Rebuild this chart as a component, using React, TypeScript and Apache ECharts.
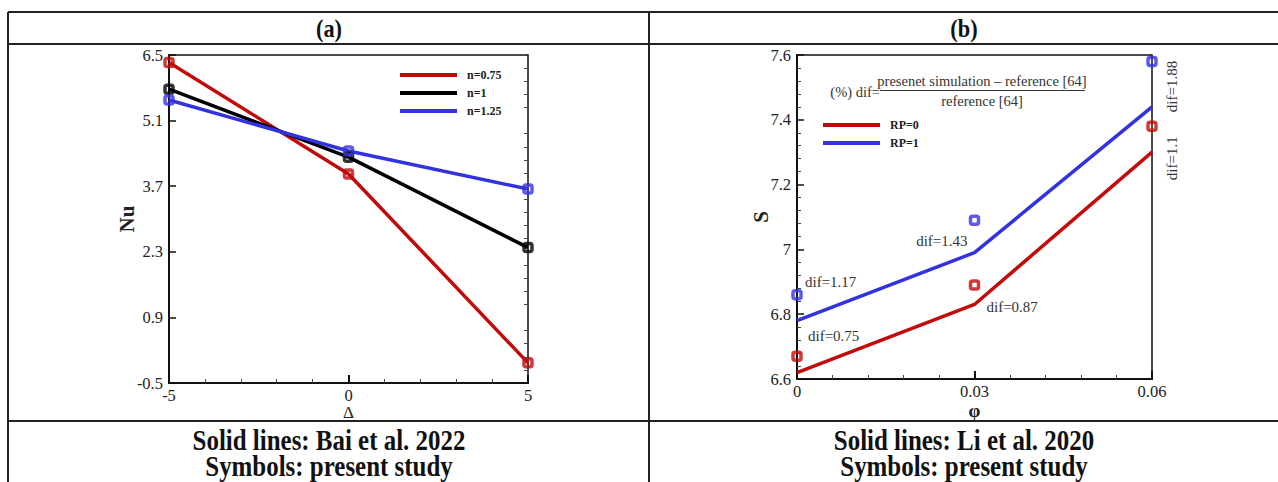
import React, { useEffect, useRef } from "react";
import * as echarts from "echarts";

// ---- Panel (a): Nu versus Δ ----
const deltaValues = [-5, 0, 5];
const nuLineN075 = [6.34, 3.96, -0.07];
const nuLineN1 = [5.77, 4.32, 2.39];
const nuLineN125 = [5.54, 4.45, 3.64];
const nuSymN075 = [6.34, 3.96, -0.07];
const nuSymN1 = [5.77, 4.32, 2.39];
const nuSymN125 = [5.54, 4.45, 3.64];
const nuTicks = [-0.5, 0.9, 2.3, 3.7, 5.1, 6.5];
const legendA = ["n=0.75", "n=1", "n=1.25"];

// ---- Panel (b): S versus φ ----
const phiValues = [0, 0.03, 0.06];
const sLineRP0 = [6.62, 6.83, 7.3];
const sLineRP1 = [6.78, 6.99, 7.44];
const sSymRP0 = [6.67, 6.89, 7.38];
const sSymRP1 = [6.86, 7.09, 7.58];
const difRP0 = ["0.75", "0.87", "1.1"];
const difRP1 = ["1.17", "1.43", "1.88"];
const legendB = ["RP=0", "RP=1"];

const RED = "#c20a0a";
const BLACK = "#000000";
const BLUE = "#3232e0";
const SERIF = "'Liberation Serif', 'Times New Roman', serif";

const zip = (xs: number[], ys: number[]) => xs.map((x, i) => [x, ys[i]]);

// minor tick positions between the major Nu ticks (4 per gap)
const nuMinor: number[] = [];
for (let i = 0; i < nuTicks.length - 1; i++) {
  const step = (nuTicks[i + 1] - nuTicks[i]) / 5;
  for (let k = 1; k < 5; k++) nuMinor.push(+(nuTicks[i] + step * k).toFixed(3));
}

const tickLabel = { color: "#222", fontFamily: SERIF, fontSize: 16.5 };
const axisLineStyle = { onZero: false, lineStyle: { color: "#111", width: 2 } };
const nameStyle = (size: number, bold: boolean) => ({
  fontFamily: SERIF,
  fontSize: size,
  fontWeight: bold ? "bold" : "normal",
  color: "#222",
  align: "center",
  verticalAlign: "middle",
});

export default function App() {
  const ref = useRef<HTMLDivElement>(null);

  useEffect(() => {
    if (!ref.current) return;
    const chart = echarts.init(ref.current, undefined, { renderer: "svg" });

    const lineSeries = (name: string, data: number[][], color: string, xi: number, yi: number) => ({
      name,
      type: "line",
      xAxisIndex: xi,
      yAxisIndex: yi,
      data,
      showSymbol: false,
      symbol: "none",
      lineStyle: { color, width: 3.5 },
      itemStyle: { color },
      z: 2,
    });
    const symSeries = (name: string, data: number[][], color: string, xi: number, yi: number) => ({
      name,
      type: "scatter",
      xAxisIndex: xi,
      yAxisIndex: yi,
      data,
      symbol: "roundRect",
      symbolSize: 8,
      itemStyle: { color: "rgba(255,255,255,0)", borderColor: color, borderWidth: 3.5 },
      z: 3,
    });

    const option: any = {
      animation: false,
      backgroundColor: "#ffffff",
      grid: [
        { left: 169, top: 55, width: 359, height: 328, show: true, borderColor: "#111", borderWidth: 1.5, backgroundColor: "transparent" },
        { left: 797, top: 55, width: 355, height: 324, show: true, borderColor: "#111", borderWidth: 1.5, backgroundColor: "transparent" },
      ],
      legend: [
        {
          data: legendA,
          orient: "vertical",
          left: 400,
          top: 69,
          itemWidth: 57,
          itemHeight: 4,
          itemGap: 6,
          icon: "rect",
          padding: 0,
          textStyle: { fontFamily: SERIF, fontWeight: "bold", fontSize: 12, color: "#222", padding: [0, 0, 0, 5] },
        },
        {
          data: legendB,
          orient: "vertical",
          left: 823,
          top: 119,
          itemWidth: 57,
          itemHeight: 4,
          itemGap: 6,
          icon: "rect",
          padding: 0,
          textStyle: { fontFamily: SERIF, fontWeight: "bold", fontSize: 12, color: "#222", padding: [0, 0, 0, 5] },
        },
      ],
      xAxis: [
        {
          type: "value",
          gridIndex: 0,
          min: -5,
          max: 5,
          interval: 5,
          name: "Δ",
          nameLocation: "middle",
          nameGap: 29.5,
          nameMoveOverlap: false,
          nameTextStyle: nameStyle(17, false),
          axisLine: axisLineStyle,
          axisTick: { inside: true, length: 8, lineStyle: { color: "#111", width: 2 } },
          minorTick: { show: true, splitNumber: 5, length: 4, lineStyle: { color: "#444", width: 1 } },
          axisLabel: { ...tickLabel, margin: 4 },
          splitLine: { show: false },
        },
        {
          type: "value",
          gridIndex: 1,
          min: 0,
          max: 0.06,
          interval: 0.03,
          name: "φ",
          nameLocation: "middle",
          nameGap: 31,
          nameMoveOverlap: false,
          nameTextStyle: nameStyle(19, true),
          axisLine: axisLineStyle,
          axisTick: { inside: true, length: 8, lineStyle: { color: "#111", width: 2 } },
          minorTick: { show: true, splitNumber: 5, length: 4, lineStyle: { color: "#444", width: 1 } },
          axisLabel: { ...tickLabel, margin: 4, formatter: (v: number) => String(+v.toFixed(2)) },
          splitLine: { show: false },
        },
      ],
      yAxis: [
        {
          type: "value",
          gridIndex: 0,
          min: -0.5,
          max: 6.5,
          name: "Nu",
          nameLocation: "middle",
          nameGap: 42,
          nameRotate: 90,
          nameMoveOverlap: false,
          nameTextStyle: nameStyle(21, true),
          axisLine: axisLineStyle,
          axisTick: { inside: true, length: 7, customValues: nuTicks, lineStyle: { color: "#111", width: 1.5 } },
          axisLabel: { ...tickLabel, margin: 6, customValues: nuTicks, formatter: (v: number) => v.toFixed(1) },
          splitLine: { show: false },
        },
        {
          type: "value",
          gridIndex: 0,
          min: -0.5,
          max: 6.5,
          axisLine: { show: false, onZero: false },
          axisTick: { inside: true, length: 4, customValues: nuMinor, lineStyle: { color: "#444", width: 1 } },
          axisLabel: { show: false },
          splitLine: { show: false },
        },
        {
          type: "value",
          gridIndex: 1,
          min: 6.6,
          max: 7.6,
          interval: 0.2,
          name: "S",
          nameLocation: "middle",
          nameGap: 36,
          nameRotate: 90,
          nameMoveOverlap: false,
          nameTextStyle: nameStyle(21, true),
          axisLine: axisLineStyle,
          axisTick: { inside: true, length: 7, lineStyle: { color: "#111", width: 1.5 } },
          minorTick: { show: true, splitNumber: 5, length: 4, lineStyle: { color: "#444", width: 1 } },
          axisLabel: { ...tickLabel, margin: 6, formatter: (v: number) => String(+v.toFixed(1)) },
          splitLine: { show: false },
        },
      ],
      series: [
        lineSeries("n=0.75", zip(deltaValues, nuLineN075), RED, 0, 0),
        lineSeries("n=1", zip(deltaValues, nuLineN1), BLACK, 0, 0),
        lineSeries("n=1.25", zip(deltaValues, nuLineN125), BLUE, 0, 0),
        symSeries("n=0.75 present", zip(deltaValues, nuSymN075), RED, 0, 0),
        symSeries("n=1 present", zip(deltaValues, nuSymN1), BLACK, 0, 0),
        symSeries("n=1.25 present", zip(deltaValues, nuSymN125), BLUE, 0, 0),
        lineSeries("RP=0", zip(phiValues, sLineRP0), RED, 1, 2),
        lineSeries("RP=1", zip(phiValues, sLineRP1), BLUE, 1, 2),
        symSeries("RP=0 present", zip(phiValues, sSymRP0), RED, 1, 2),
        symSeries("RP=1 present", zip(phiValues, sSymRP1), BLUE, 1, 2),
      ],
    };

    chart.setOption(option);

    // dif annotations placed next to the present-study symbols of panel (b)
    const px = (x: number, y: number) => chart.convertToPixel({ xAxisIndex: 1, yAxisIndex: 2 } as any, [x, y]) as number[];
    const annot: any[] = [];
    const difStyle = { fontFamily: SERIF, fontSize: 15, fill: "#333" };
    const place = [
      // [dx, dy, align, rotated]
      { s: sSymRP1, d: difRP1, off: [[8, -13, "left", false], [-7, 21, "right", false], [20, 25, "center", true]] },
      { s: sSymRP0, d: difRP0, off: [[11, -20, "left", false], [12, 22, "left", false], [20, 32, "center", true]] },
    ];
    place.forEach((p) => {
      p.s.forEach((v, i) => {
        const [x, y] = px(phiValues[i], v);
        const [dx, dy, align, rot] = p.off[i] as [number, number, string, boolean];
        annot.push({
          type: "text",
          x: x + dx,
          y: y + dy,
          rotation: rot ? Math.PI / 2 : 0,
          style: { ...difStyle, text: "dif=" + p.d[i], align, verticalAlign: "middle" },
          z: 10,
        });
      });
    });

    const border = { stroke: "#222", lineWidth: 2 };
    const hLine = (y: number) => ({ type: "line", shape: { x1: 8, y1: y, x2: 1278, y2: y }, style: border, z: 20 });
    const vLine = (x: number) => ({ type: "line", shape: { x1: x, y1: 12, x2: x, y2: 482 }, style: border, z: 20 });
    // condensed bold cell captions
    const cellText = (text: string, x: number, y: number, size: number) => ({
      type: "text",
      x,
      y,
      scaleX: 0.86,
      style: { text, fontFamily: SERIF, fontWeight: "bold", fontSize: size, fill: "#111", align: "center", verticalAlign: "middle" },
      z: 20,
    });
    const formula = { fontFamily: SERIF, fontSize: 14.5, fill: "#333", verticalAlign: "middle" };

    chart.setOption({
      graphic: [
        hLine(12),
        hLine(44),
        hLine(421),
        vLine(8),
        vLine(649),
        cellText("(a)", 329, 28, 26),
        cellText("(b)", 964, 28, 26),
        cellText("Solid lines: Bai et al. 2022", 329, 440, 29),
        cellText("Symbols: present study", 329, 466, 29),
        cellText("Solid lines: Li et al. 2020", 964, 440, 29),
        cellText("Symbols: present study", 964, 466, 29),
        { type: "text", x: 880, y: 92, style: { ...formula, text: "(%) dif=", align: "right" }, z: 10 },
        { type: "text", x: 982, y: 81, style: { ...formula, text: "presenet simulation – reference [64]", align: "center" }, z: 10 },
        { type: "line", shape: { x1: 880, y1: 90.5, x2: 1085, y2: 90.5 }, style: { stroke: "#333", lineWidth: 1 }, z: 10 },
        { type: "text", x: 982, y: 101, style: { ...formula, text: "reference [64]", align: "center" }, z: 10 },
        ...annot,
      ],
    });

    return () => chart.dispose();
  }, []);

  return (
    <div
      ref={ref}
      style={{ position: "fixed", left: 0, top: 0, width: 1278, height: 482, background: "#fff" }}
    />
  );
}
